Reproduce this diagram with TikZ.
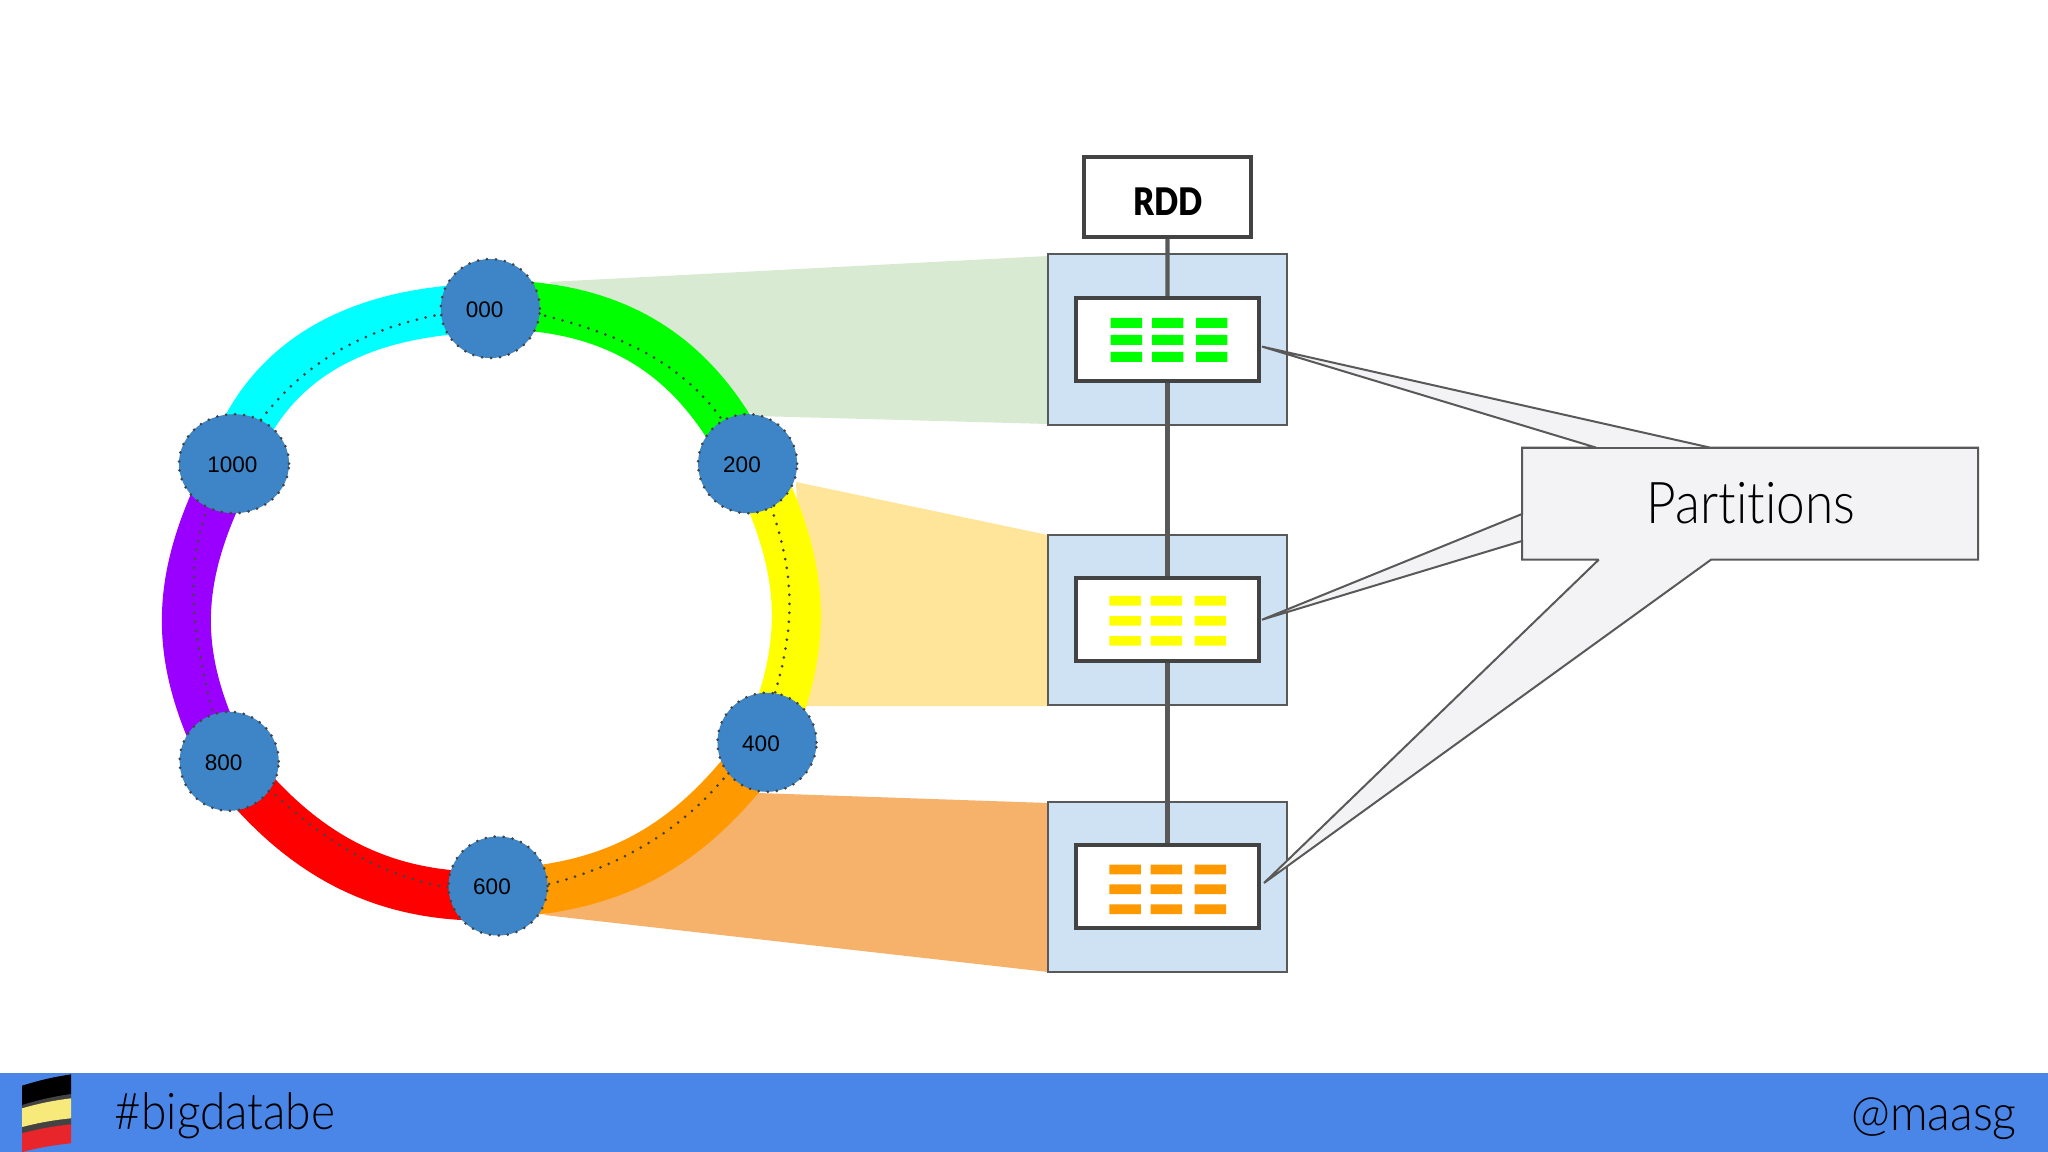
\documentclass[tikz,border=0pt]{standalone}
\usepackage{fontspec}
\usepackage{tikz, xcolor}
\usetikzlibrary{shapes.geometric}
\setmainfont{Liberation Sans}
\newfontfamily\slidefont[FakeStretch=0.89,Ligatures=NoCommon]{Lato Light}
\newfontfamily\tagfont[FakeStretch=0.91,Ligatures=NoCommon]{Lato Light}
\newfontfamily\handlefont[FakeStretch=0.95,Ligatures=NoCommon]{Lato Light}
\newfontfamily\rddfont[FakeStretch=0.84]{Lato Black}
\definecolor{ringcyan}{HTML}{00FFFF}
\definecolor{ringgreen}{HTML}{00FF00}
\definecolor{ringyellow}{HTML}{FFFF00}
\definecolor{ringorange}{HTML}{FF9900}
\definecolor{ringred}{HTML}{FF0000}
\definecolor{ringpurple}{HTML}{9900FF}
\definecolor{hubblue}{HTML}{3D85C6}
\definecolor{paleblue}{HTML}{CFE2F3}
\definecolor{wedgegreen}{HTML}{D9EAD3}
\definecolor{wedgeyellow}{HTML}{FFE599}
\definecolor{wedgeorange}{HTML}{F6B26B}
\definecolor{calloutgray}{HTML}{F3F3F5}
\definecolor{edgegray}{HTML}{595959}
\definecolor{boxgray}{HTML}{434343}
\definecolor{footerblue}{HTML}{4A86E8}
\definecolor{flagyellow}{HTML}{F7E97A}
\definecolor{flagred}{HTML}{E8252A}

\begin{document}
\begin{tikzpicture}[x=0.01cm, y=-0.01cm,
    band/.style={line width=0.49cm},
    dots/.style={boxgray, line width=0.03cm, line cap=round, dash pattern=on 0pt off 0.09cm},
    hub/.style={ellipse, fill=hubblue, draw=boxgray, line width=0.03cm, line cap=round, dash pattern=on 0pt off 0.09cm, inner sep=0pt, minimum width=0.99cm, minimum height=0.99cm},
    hublabel/.style={inner sep=0pt, font=\fontsize{6.4}{8}\selectfont},
    part/.style={rectangle, draw=edgegray, fill=paleblue, line width=0.02cm, inner sep=0pt, minimum width=2.39cm, minimum height=1.70cm},
    slot/.style={rectangle, draw=boxgray, fill=white, line width=0.04cm, inner sep=0pt, minimum width=1.83cm, minimum height=0.83cm},
    link/.style={edgegray, line width=0.042cm},
    caption/.style={inner sep=0pt, anchor=base, text=black}]

    \useasboundingbox (0,0) rectangle (2048,1152);

    % wedges from ring to partitions
    \fill[wedgegreen] (549,282) -- (1048,256) -- (1048,424) -- (756,416) -- cycle;
    \fill[wedgeyellow] (796,482) -- (1048,535) -- (1048,706) -- (805,706) -- cycle;
    \fill[wedgeorange] (758,793) -- (1048,803) -- (1048,972) -- (544,915) -- cycle;

    % ring
    \draw[band, ringcyan] (490,308) .. controls (340,310) and (267.5,373) .. (236,450);
    \draw[band, ringgreen] (490,305) .. controls (640,303) and (705,380) .. (745,455);
    \draw[band, ringyellow] (755,465) .. controls (804,566) and (810,636) .. (770,735);
    \draw[band, ringorange] (765,745) .. controls (700,833) and (630,888) .. (500,893);
    \draw[band, ringred] (235,770) .. controls (305,857) and (385,899) .. (495,896);
    \draw[band, ringpurple] (232,465) .. controls (174,576) and (172,652) .. (222,755);

    % dotted line on the ring
    \draw[dots] (470,310) .. controls (351,324) and (289,377) .. (250,435);
    \draw[dots] (510,308) .. controls (630,332) and (695,370) .. (735,440);
    \draw[dots] (765,490) .. controls (796.5,573.7) and (797,624.5) .. (770,710);
    \draw[dots] (745,750) .. controls (692,830) and (610,875) .. (520,890);
    \draw[dots] (250,770) .. controls (312,835) and (385,884) .. (470,890);
    \draw[dots] (215,490) .. controls (177,571) and (196,650) .. (220,740);

    \node[hub] (h000) at (490.3,308.5) {};
    \node[hub] (h200) at (747.6,463.7) {};
    \node[hub] (h400) at (767,742.3) {};
    \node[hub] (h600) at (498,886) {};
    \node[hub] (h800) at (229.2,761.3) {};
    \node[hub, minimum width=1.10cm] (h1000) at (234,463.7) {};

    \node[hublabel] (l000) at (484.7,310) {000};
    \node[hublabel] (l200) at (742,465) {200};
    \node[hublabel] (l400) at (761,743.7) {400};
    \node[hublabel] (l600) at (492,887) {600};
    \node[hublabel] (l800) at (223.6,763) {800};
    \node[hublabel] (l1000) at (232.4,465) {1000};

    % partitions
    \node[part] (p1) at (1167.4,339.5) {};
    \node[part] (p2) at (1167.4,620) {};
    \node[part] (p3) at (1167.4,887) {};
    \node[slot] (i1) at (1167.5,339.3) {};
    \node[slot] (i2) at (1167.5,619.5) {};
    \node[slot] (i3) at (1167.5,886.7) {};
    \node[rectangle, draw=boxgray, fill=white, line width=0.04cm, inner sep=0pt, minimum width=1.667cm, minimum height=0.795cm] (rdd) at (1167.4,197.2) {};
    \node[caption, font=\rddfont\fontsize{10.8}{13}\selectfont] (rddtext) at (1167.8,216) {RDD};

    \draw[link] (rdd) -- (i1);
    \draw[link] (i1) -- (i2);
    \draw[link] (i2) -- (i3);

    \fill[ringgreen] (1110.7,318) rectangle ++(31.3,10) (1152,318) rectangle ++(31.3,10) (1196,318) rectangle ++(31.3,10);
    \fill[ringgreen] (1110.7,335) rectangle ++(31.3,10) (1152,335) rectangle ++(31.3,10) (1196,335) rectangle ++(31.3,10);
    \fill[ringgreen] (1110.7,352) rectangle ++(31.3,10) (1152,352) rectangle ++(31.3,10) (1196,352) rectangle ++(31.3,10);
    \fill[ringyellow] (1109.3,596) rectangle ++(31.5,9.7) (1150.7,596) rectangle ++(31.5,9.7) (1194.7,596) rectangle ++(31.5,9.7);
    \fill[ringyellow] (1109.3,616) rectangle ++(31.5,9.7) (1150.7,616) rectangle ++(31.5,9.7) (1194.7,616) rectangle ++(31.5,9.7);
    \fill[ringyellow] (1109.3,636) rectangle ++(31.5,9.7) (1150.7,636) rectangle ++(31.5,9.7) (1194.7,636) rectangle ++(31.5,9.7);
    \fill[ringorange] (1109.3,864.7) rectangle ++(31.5,9.7) (1150.7,864.7) rectangle ++(31.5,9.7) (1194.7,864.7) rectangle ++(31.5,9.7);
    \fill[ringorange] (1109.3,884.3) rectangle ++(31.5,9.7) (1150.7,884.3) rectangle ++(31.5,9.7) (1194.7,884.3) rectangle ++(31.5,9.7);
    \fill[ringorange] (1109.3,904.3) rectangle ++(31.5,9.7) (1150.7,904.3) rectangle ++(31.5,9.7) (1194.7,904.3) rectangle ++(31.5,9.7);

    % callout
    \coordinate (tip1) at (1262,346.6);
    \coordinate (tip2) at (1262,619.7);
    \coordinate (tip3) at (1264,883);
    \draw[fill=calloutgray, draw=edgegray, line width=0.02cm, line join=miter, miter limit=2]
        (1522,447.6) -- (1596,447.6) -- (tip1) -- (1710,447.6) -- (1978,447.6) -- (1978,559.7)
        -- (1711,559.7) -- (tip3) -- (1598.7,559.7) -- (1522,559.7) -- (1522,541) -- (tip2) -- (1522,514) -- cycle;
    \draw[draw=edgegray, line width=0.02cm] (1522,559.7) -- (1522,447.6) -- (1978,447.6);
    \node[caption, font=\slidefont\fontsize{16.4}{20}\selectfont] (partitions) at (1751,523.5) {Partitions};

    % footer
    \fill[footerblue] (0,1073.3) rectangle (2048,1152);
    \fill[black] (22,1085.7) to[bend left=4] (71,1074.3) -- (71,1094.3) to[bend right=4] (22,1105.7) -- cycle;
    \fill[boxgray] (22,1105) to[bend left=4] (71,1094) -- (71,1100) to[bend right=4] (22,1110) -- cycle;
    \fill[boxgray] (22,1126) to[bend left=4] (71,1117) -- (71,1125) to[bend right=4] (22,1134) -- cycle;
    \fill[flagyellow] (22,1108.3) to[bend left=4] (71,1098.3) -- (71,1118.3) to[bend right=4] (22,1127) -- cycle;
    \fill[flagred] (22,1133.3) to[bend left=4] (71,1124.3) -- (71,1143.3) to[bend right=4] (22,1152) -- cycle;
    \node[caption, font=\tagfont\fontsize{14.4}{18}\selectfont] (tag) at (225,1129.3) {\#bigdatabe};
    \node[caption, font=\handlefont\fontsize{14}{18}\selectfont] (handle) at (1934,1130) {@maasg};
\end{tikzpicture}
\end{document}
